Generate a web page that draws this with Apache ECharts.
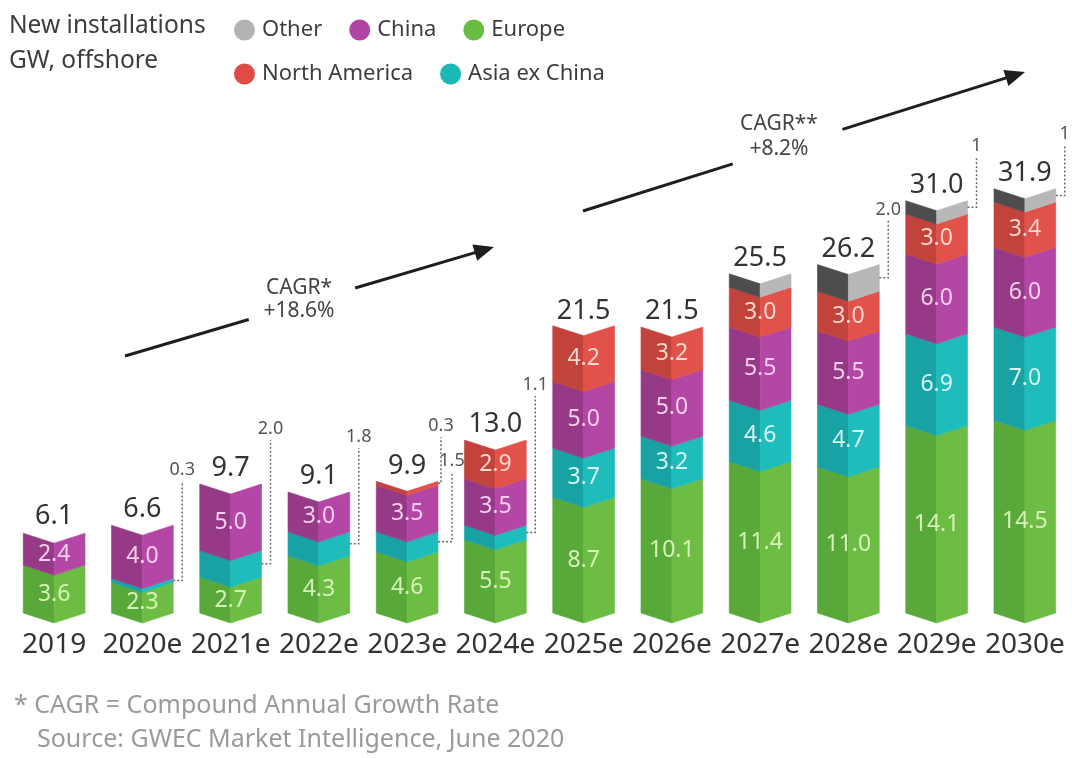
<!DOCTYPE html>
<html>
<head>
<meta charset="utf-8">
<script src="https://cdn.jsdelivr.net/npm/echarts@6/dist/echarts.min.js"></script>
<style>
html,body{margin:0;padding:0;background:#fff;}
#chart{width:1072px;height:758px;}
</style>
</head>
<body>
<div id="chart"></div>
<script>
// ---- data ----
const categories = ['2019','2020e','2021e','2022e','2023e','2024e','2025e','2026e','2027e','2028e','2029e','2030e'];
const europe       = [3.6, 2.3, 2.7, 4.3, 4.6, 5.5, 8.7, 10.1, 11.4, 11.0, 14.1, 14.5];
const asiaExChina  = [0,   0.3, 2.0, 1.8, 1.5, 1.1, 3.7, 3.2,  4.6,  4.7,  6.9,  7.0];
const china        = [2.4, 4.0, 5.0, 3.0, 3.5, 3.5, 5.0, 5.0,  5.5,  5.5,  6.0,  6.0];
const northAmerica = [0,   0,   0,   0,   0.3, 2.9, 4.2, 3.2,  3.0,  3.0,  3.0,  3.4];
const other        = [0,   0,   0,   0,   0,   0,   0,   0,    1.0,  2.0,  1.0,  1.0];
const totals       = [6.1, 6.6, 9.7, 9.1, 9.9, 13.0, 21.5, 21.5, 25.5, 26.2, 31.0, 31.9];
// segments labelled outside the bar with a dashed leader: [category index, region, text]
const outsideLabels = [
  [1,'Asia ex China','0.3'],[2,'Asia ex China','2.0'],[3,'Asia ex China','1.8'],
  [4,'North America','0.3'],[4,'Asia ex China','1.5'],[5,'Asia ex China','1.1'],
  [9,'Other','2.0'],[10,'Other','1'],[11,'Other','1']
];

const FONT = '"Noto Sans", "DejaVu Sans", sans-serif';
const regions = [
  {name:'Europe',        values:europe,       dark:'#58a83a', light:'#6dbd45', legend:'#69bd45', label:'#d9f1b8'},
  {name:'Asia ex China', values:asiaExChina,  dark:'#18a2a4', light:'#1fbcbc', legend:'#1bb9b5', label:'#d5f5f3'},
  {name:'China',         values:china,        dark:'#963a88', light:'#b447a5', legend:'#b144a4', label:'#f6cdec'},
  {name:'North America', values:northAmerica, dark:'#c2423c', light:'#e0524a', legend:'#e04c45', label:'#fdd6cc'},
  {name:'Other',         values:other,        dark:'#4d4d4d', light:'#b8b8b8', legend:'#b3b3b3', label:'#ffffff'}
];

// stacking
const base = categories.map(() => 0);
const stacked = regions.map(r => r.values.map((v, i) => { const lo = base[i]; base[i] += v; return [i, lo, lo + v, v]; }));
const stackTop = base.slice();

const D = 10;          // depth of the folded edge
const WIDTH_RATIO = 0.7;

function isOutside(i, name) { return outsideLabels.some(o => o[0] === i && o[1] === name); }

function makeRender(reg) {
  return function (params, api) {
    const i = api.value(0), lo = api.value(1), hi = api.value(2), v = api.value(3);
    if (!(hi - lo > 0)) return null;
    const a = api.coord([i, lo]);
    const b = api.coord([i, hi]);
    const w = api.size([1, 0])[0] * WIDTH_RATIO;
    const xc = a[0], xl = xc - w / 2, xr = xc + w / 2;
    const children = [
      {type:'polygon', shape:{points:[[xl,b[1]],[xc,b[1]+D],[xc,a[1]+D],[xl,a[1]]]},
       style:{fill:reg.dark, stroke:reg.dark, lineWidth:0.6}},
      {type:'polygon', shape:{points:[[xc,b[1]+D],[xr,b[1]],[xr,a[1]],[xc,a[1]+D]]},
       style:{fill:reg.light, stroke:reg.light, lineWidth:0.6}}
    ];
    if (!isOutside(i, reg.name) && reg.name !== 'Other' && v >= 2.3) {
      children.push({type:'text', style:{text:v.toFixed(1), x:xc, y:(a[1]+b[1])/2 + D/2,
        align:'center', verticalAlign:'middle', fill:reg.label, font:'23px ' + FONT}});
    }
    return {type:'group', children: children};
  };
}

const series = regions.map((reg, s) => ({
  name: reg.name,
  type: 'custom',
  renderItem: makeRender(reg),
  data: stacked[s],
  encode: {x: 0, y: [1, 2]},
  itemStyle: {color: reg.legend},
  clip: false,
  silent: true
}));

// leader lines + outside labels
const leaderData = outsideLabels.map(o => {
  const s = regions.findIndex(r => r.name === o[1]);
  const seg = stacked[s][o[0]];
  const same = outsideLabels.filter(p => p[0] === o[0]);
  return [o[0], seg[1], seg[2], same.indexOf(o), same.length];
});
series.push({
  name: 'leaders',
  type: 'custom',
  data: leaderData,
  encode: {x: 0, y: [1, 2]},
  clip: false,
  silent: true,
  z: 6,
  renderItem: function (params, api) {
    const i = api.value(0), lo = api.value(1), hi = api.value(2), k = api.value(3), n = api.value(4);
    const a = api.coord([i, lo]), b = api.coord([i, hi]);
    const w = api.size([1, 0])[0] * WIDTH_RATIO;
    const xr = a[0] + w / 2;
    const top = api.coord([i, stackTop[i]])[1];
    const ly = top - 55 + 35 * k;
    const lx = n > 1 ? xr + 3 + 11 * k : xr + 9;
    const ym = (a[1] + b[1]) / 2;
    return {type:'group', children:[
      {type:'polyline', shape:{points:[[xr, ym],[lx, ym],[lx, ly + 11]]},
        style:{stroke:'#6a6a6a', lineWidth:1.5, lineDash:[2,2], fill:null}},
      {type:'text', style:{text:outsideLabels[params.dataIndex][2], x:lx, y:ly, align:'center', verticalAlign:'middle',
        fill:'#555', font:'18px ' + FONT}}
    ]};
  }
});

series.push({
  name: 'totals',
  type: 'custom',
  data: totals.map((t, i) => [i, t]),
  encode: {x: 0, y: 1},
  clip: false,
  silent: true,
  z: 5,
  renderItem: function (params, api) {
    const p = api.coord([api.value(0), api.value(1)]);
    return {type:'text', style:{text: api.value(1).toFixed(1), x:p[0], y:p[1] - 2, align:'center',
      verticalAlign:'bottom', fill:'#333', font:'27px ' + FONT}};
  }
});

function arrow(x1, y1, x2, y2, gapA, gapB) {
  const dx = x2 - x1, dy = y2 - y1, L = Math.hypot(dx, dy);
  const ux = dx / L, uy = dy / L, nx = -uy, ny = ux;
  const head = 20, hw = 8.5;
  const bx = x2 - ux * head, by = y2 - uy * head;
  return [
    {type:'line', shape:{x1:x1, y1:y1, x2:x1 + ux*gapA, y2:y1 + uy*gapA}, style:{stroke:'#1e1e1e', lineWidth:3}},
    {type:'line', shape:{x1:x1 + ux*gapB, y1:y1 + uy*gapB, x2:bx + ux*2, y2:by + uy*2}, style:{stroke:'#1e1e1e', lineWidth:3}},
    {type:'polygon', shape:{points:[[x2,y2],[bx + nx*hw, by + ny*hw],[bx - nx*hw, by - ny*hw]]}, style:{fill:'#1e1e1e'}}
  ];
}

const txt = (t, x, y, size, color, align) => ({type:'text', style:{text:t, x:x, y:y,
  align:align || 'left', verticalAlign:'middle', fill:color, font: size + 'px ' + FONT}});

const graphics = [].concat(
  arrow(125, 356, 494, 247, 129, 240),
  arrow(583, 211, 1025, 72, 157, 272),
  [
    txt('CAGR*', 299, 288, 21, '#444', 'center'),
    txt('+18.6%', 299, 311, 21, '#444', 'center'),
    txt('CAGR**', 779, 124, 21, '#444', 'center'),
    txt('+8.2%', 779, 149, 21, '#444', 'center'),
    txt('New installations', 9, 26, 24.5, '#3d3d3d'),
    txt('GW, offshore', 9, 61, 24.5, '#3d3d3d'),
    txt('* CAGR = Compound Annual Growth Rate', 14, 706, 25, '#9a9a9a'),
    txt('Source: GWEC Market Intelligence, June 2020', 37, 740, 25, '#9a9a9a')
  ]
);

const legendBase = {
  icon: 'circle', itemWidth: 21, itemHeight: 21, itemGap: 27, left: 229, orient: 'horizontal',
  selectedMode: false,
  textStyle: {fontSize: 22, color: '#3d3d3d', fontFamily: FONT, padding: [0, 0, 0, 2]}
};

const chart = echarts.init(document.getElementById('chart'), null, {renderer: 'canvas'});
chart.setOption({
  animation: false,
  backgroundColor: '#ffffff',
  grid: {left: 10, right: 3, top: 81, bottom: 145, containLabel: false},
  legend: [
    Object.assign({}, legendBase, {data: ['Other', 'China', 'Europe'], top: 14}),
    Object.assign({}, legendBase, {data: ['North America', 'Asia ex China'], top: 58})
  ],
  xAxis: {
    type: 'category', data: categories,
    axisLine: {show: false}, axisTick: {show: false},
    axisLabel: {fontSize: 28, color: '#333', fontFamily: FONT, margin: 18, interval: 0}
  },
  yAxis: {type: 'value', min: 0, max: 40, show: false, splitLine: {show: false}},
  graphic: graphics,
  series: series
});
</script>
</body>
</html>
